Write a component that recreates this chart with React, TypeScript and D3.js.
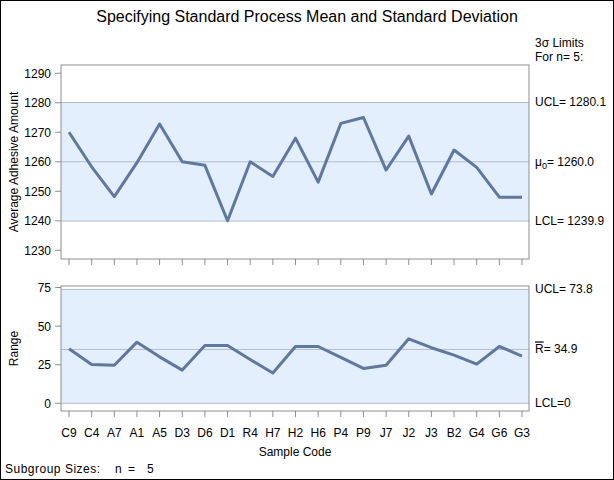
import React, { useEffect } from "react";
import * as d3 from "d3";

const samples = ["C9", "C4", "A7", "A1", "A5", "D3", "D6", "D1", "R4", "H7", "H2", "H6", "P4", "P9", "J7", "J2", "J3", "B2", "G4", "G6", "G3"];
const means = [1270, 1258.3, 1248.2, 1259.7, 1272.8, 1260, 1258.8, 1240, 1260, 1255, 1268, 1253.1, 1273, 1275, 1257.2, 1268.7, 1249.1, 1264, 1258.1, 1248, 1248];
const ranges = [35.3, 25.2, 24.6, 39.6, 30.1, 21.5, 37.5, 37.5, 28.4, 19.6, 36.8, 36.8, 29.7, 22.6, 24.6, 41.8, 36, 31.2, 25.4, 36.8, 30.6];
const meanTicks = [1230, 1240, 1250, 1260, 1270, 1280, 1290];
const rangeTicks = [0, 25, 50, 75];
const meanLimits = { ucl: 1280.1, center: 1260.0, lcl: 1239.9 };
const rangeLimits = { ucl: 73.8, center: 34.9, lcl: 0 };

const W = 614;
const H = 480;
const left = 61;
const right = 529;
const font = "'Liberation Sans', Arial, sans-serif";
const lineColor = "#5f789e";
const bandColor = "#e4effd";
const refColor = "#b4bccb";
const frameColor = "#8e8e8e";

const App = () => {
  useEffect(() => {
    document.body.style.margin = "0";
  }, []);

  const x = d3
    .scalePoint<string>()
    .domain(samples)
    .range([left + 8, right - 7]);

  const yTop = d3.scaleLinear().domain([1227.05, 1292.8]).range([259, 65]);
  const yBot = d3.scaleLinear().domain([-5, 76]).range([411, 286]);

  const meanLine = d3
    .line<number>()
    .x((_, i) => x(samples[i]) as number)
    .y((d) => yTop(d));
  const rangeLine = d3
    .line<number>()
    .x((_, i) => x(samples[i]) as number)
    .y((d) => yBot(d));

  const panel = (
    y: d3.ScaleLinear<number, number>,
    ticks: number[],
    lim: { ucl: number; center: number; lcl: number },
    path: string,
    showLabels: boolean
  ) => {
    const [y0, y1] = y.range();
    return (
      <g>
        <rect x={left} y={y1} width={right - left} height={y0 - y1} fill="white" />
        <rect
          x={left}
          y={y(lim.ucl)}
          width={right - left}
          height={y(lim.lcl) - y(lim.ucl)}
          fill={bandColor}
        />
        {[lim.ucl, lim.center, lim.lcl].map((v, i) => (
          <line key={i} x1={left} x2={right} y1={y(v)} y2={y(v)} stroke={refColor} strokeWidth={1} />
        ))}
        <path d={path} fill="none" stroke={lineColor} strokeWidth={3} strokeLinejoin="round" />
        <rect x={left} y={y1} width={right - left} height={y0 - y1} fill="none" stroke={frameColor} strokeWidth={1} />
        {ticks.map((t) => (
          <g key={t}>
            <line x1={left - 6} x2={left} y1={y(t)} y2={y(t)} stroke={frameColor} />
            <text x={left - 10} y={y(t) + 4.5} textAnchor="end" fontSize={12}>
              {t}
            </text>
          </g>
        ))}
        {samples.map((s) => (
          <g key={s}>
            <line x1={x(s)} x2={x(s)} y1={y0} y2={y0 + 6} stroke={frameColor} />
            {showLabels && (
              <text x={x(s)} y={y0 + 26} textAnchor="middle" fontSize={12}>
                {s}
              </text>
            )}
          </g>
        ))}
      </g>
    );
  };

  return (
    <svg width={W} height={H} style={{ display: "block", fontFamily: font }}>
      <rect x={0.5} y={0.5} width={W - 1} height={H - 1} fill="white" stroke="black" />
      <text x={W / 2} y={22} textAnchor="middle" fontSize={16}>
        Specifying Standard Process Mean and Standard Deviation
      </text>
      {panel(yTop, meanTicks, meanLimits, meanLine(means) || "", false)}
      {panel(yBot, rangeTicks, rangeLimits, rangeLine(ranges) || "", true)}

      <text transform={`translate(18,${(65 + 259) / 2}) rotate(-90)`} textAnchor="middle" fontSize={12}>
        Average Adhesive Amount
      </text>
      <text transform={`translate(18,${(286 + 411) / 2}) rotate(-90)`} textAnchor="middle" fontSize={12}>
        Range
      </text>

      <g fontSize={12}>
        <text x={535} y={47}>3σ Limits</text>
        <text x={535} y={61}>For n= 5:</text>
        <text x={535} y={yTop(meanLimits.ucl) + 4}>UCL= {meanLimits.ucl.toFixed(1)}</text>
        <text x={535} y={yTop(meanLimits.center) + 4}>
          μ<tspan fontSize={9} dy={3}>0</tspan>
          <tspan dy={-3}>= {meanLimits.center.toFixed(1)}</tspan>
        </text>
        <text x={535} y={yTop(meanLimits.lcl) + 4}>LCL= {meanLimits.lcl.toFixed(1)}</text>
        <text x={535} y={yBot(rangeLimits.ucl) + 4}>UCL= {rangeLimits.ucl.toFixed(1)}</text>
        <text x={535} y={yBot(rangeLimits.center) + 4}>
          <tspan textDecoration="overline">R</tspan>= {rangeLimits.center.toFixed(1)}
        </text>
        <text x={535} y={yBot(rangeLimits.lcl) + 4}>LCL={rangeLimits.lcl}</text>
      </g>

      <text x={(left + right) / 2} y={456} textAnchor="middle" fontSize={12}>
        Sample Code
      </text>
      <g fontSize={12}>
        <text x={5} y={473} letterSpacing={0.5}>
          Subgroup Sizes:
        </text>
        <text x={115} y={473}>n</text>
        <text x={128} y={473}>=</text>
        <text x={147} y={473}>5</text>
      </g>
    </svg>
  );
};

export default App;
